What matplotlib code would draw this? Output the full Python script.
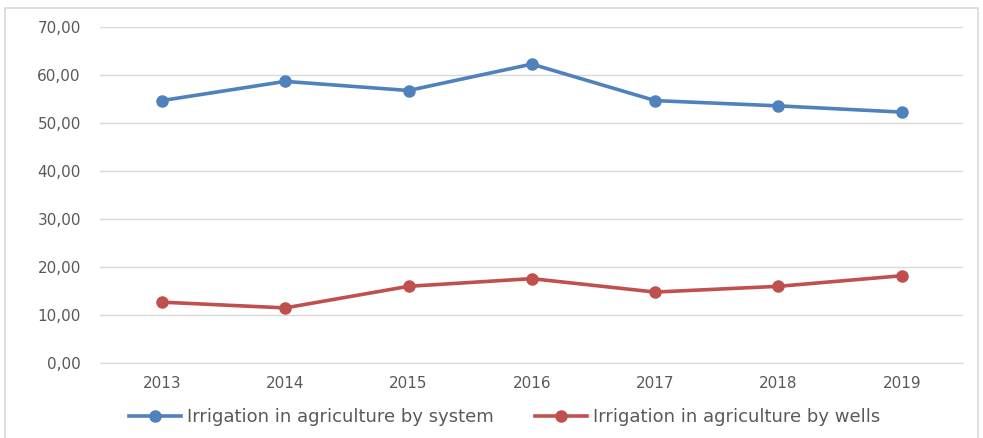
import matplotlib
matplotlib.use("Agg")
from matplotlib import pyplot as plt
from matplotlib.patches import Rectangle

years = ["2013", "2014", "2015", "2016", "2017", "2018", "2019"]
system = [54.7, 58.7, 56.8, 62.3, 54.7, 53.6, 52.3]
wells = [12.7, 11.5, 16.0, 17.6, 14.8, 16.0, 18.2]

plt.rcParams['font.family'] = ['DejaVu Sans']

fig = plt.figure(figsize=(9.83, 4.38), dpi=100)
ax = fig.add_axes([0.102, 0.171, 0.878, 0.767])

x = range(len(years))
l1, = ax.plot(x, system, color='#4f81bd', lw=2.6, marker='o', ms=8,
              label="Irrigation in agriculture by system")
l2, = ax.plot(x, wells, color='#c0504d', lw=2.6, marker='o', ms=8,
              label="Irrigation in agriculture by wells")

ax.set_xlim(-0.5, len(years) - 0.5)
ax.set_ylim(0, 70)
ax.set_yticks(range(0, 71, 10))
ax.set_yticklabels(["%d,00" % v for v in range(0, 71, 10)])
ax.set_xticks(list(x))
ax.set_xticklabels(years)
ax.grid(axis='y', color='#d9d9d9', lw=1)
ax.set_axisbelow(True)
for s in ['top', 'right', 'left']:
    ax.spines[s].set_visible(False)
ax.spines['bottom'].set_color('#d9d9d9')
ax.tick_params(axis='both', length=0, colors='#595959', labelsize=11)
ax.tick_params(axis='y', pad=14)
ax.tick_params(axis='x', pad=9)

fig.legend(handles=[l1, l2], loc='center', bbox_to_anchor=(0.513, 0.048),
           ncol=2, frameon=False, fontsize=13, handlelength=2.9,
           columnspacing=2.3, handletextpad=0.3, labelcolor='#595959')

fig.patches.append(Rectangle((5 / 983, -0.01), 973 / 983, 1 - 8 / 438 + 0.01,
                             transform=fig.transFigure, fill=False,
                             edgecolor='#d9d9d9', lw=1.2))

fig.savefig("out.png", dpi=100)
